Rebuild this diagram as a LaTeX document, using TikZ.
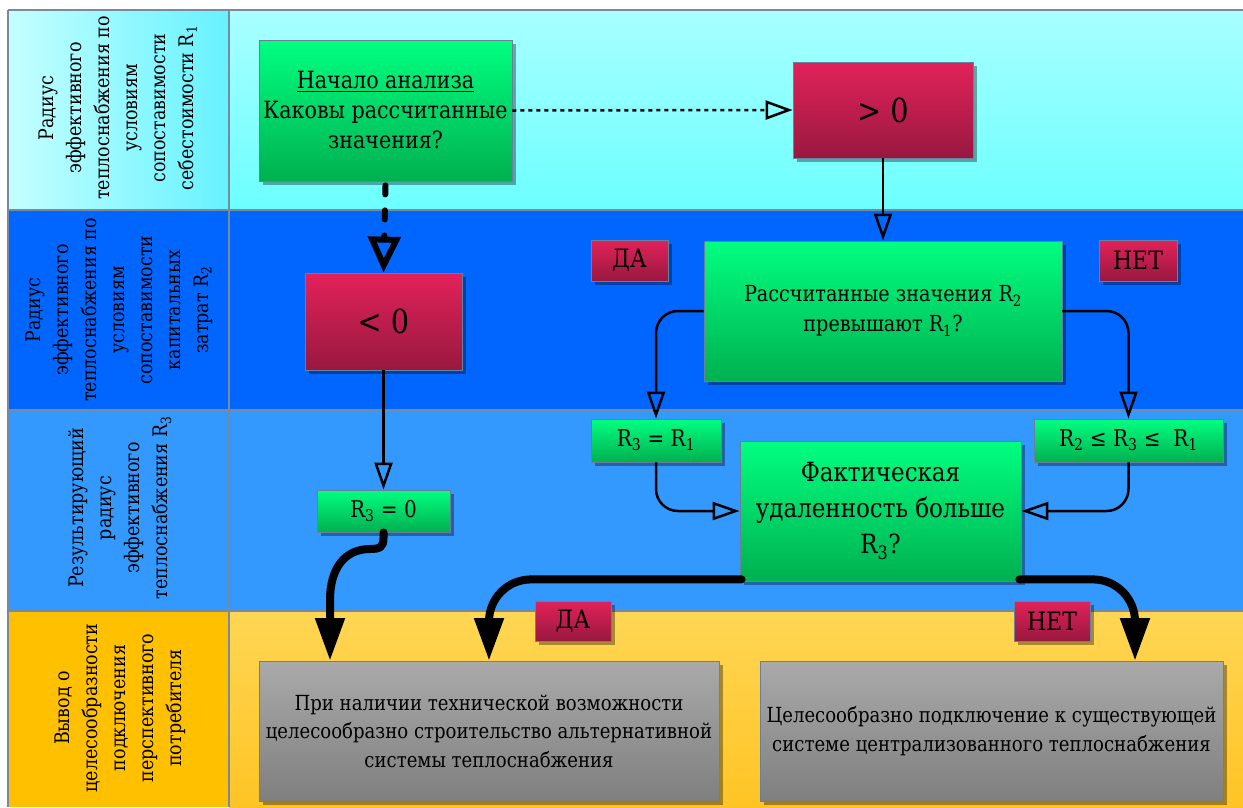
\documentclass[tikz,border=0pt]{standalone}
\usepackage{fontspec}
\setmainfont{DejaVu Serif}[FakeStretch=0.87]
\usetikzlibrary{arrows.meta,shadows,calc}

\definecolor{cyanA}{HTML}{A8FFFF}
\definecolor{cyanB}{HTML}{6CFFFF}
\definecolor{cyanL}{HTML}{C4FFFF}
\definecolor{cyanR}{HTML}{66F2FF}
\definecolor{blueA}{HTML}{0066FF}
\definecolor{blueB}{HTML}{3399FF}
\definecolor{goldA}{HTML}{FFD654}
\definecolor{goldB}{HTML}{FFC424}
\definecolor{goldL}{HTML}{FFC000}
\definecolor{greenA}{HTML}{00FF80}
\definecolor{greenB}{HTML}{00B050}
\definecolor{redA}{HTML}{E2225A}
\definecolor{redB}{HTML}{98183F}
\definecolor{grayA}{HTML}{AAAAAA}
\definecolor{grayB}{HTML}{7F7F7F}
\definecolor{edge}{HTML}{6A7F99}
\definecolor{gridc}{HTML}{7A8A9E}

% font size scaled to DejaVu Serif proportions
\newcommand{\myfs}[2]{\fontsize{\dimexpr #1pt*92/100\relax}{#2pt}\selectfont}

\tikzset{
  boxbase/.style={draw=edge, line width=0.8pt, inner sep=0pt, align=center,
    drop shadow={shadow xshift=4pt, shadow yshift=-4pt, fill=black, opacity=0.35}},
  greenbox/.style={boxbase, top color=greenA, bottom color=greenB},
  redbox/.style={boxbase, top color=redA, bottom color=redB},
  graybox/.style={boxbase, top color=grayA, bottom color=grayB},
  bandlabel/.style={rotate=90, align=center, font=\myfs{21.8}{28}},
  conn/.style={line width=2.5pt, -{Triangle[open,length=27pt,width=18pt,line width=2.5pt]}},
  dotconn/.style={line width=2.5pt, dash pattern=on 4pt off 4pt,
    -{Triangle[open,length=27pt,width=19pt,line width=2.5pt]}},
  thickdash/.style={line width=6pt, line cap=round, dash pattern=on 9pt off 16pt,
    -{Triangle[open,length=36pt,width=32pt,line width=6pt]}},
  bigarrow/.style={line width=8pt, line cap=round, -{Triangle[length=43pt,width=28pt]}},
  gridline/.style={draw=gridc, line width=1.5pt}
}

\begin{document}
\begin{tikzpicture}[x=1pt,y=-1pt]
\useasboundingbox (0,0) rectangle (1243,807);
\fill[white] (0,0) rectangle (1243,807);

% bands
\fill[top color=cyanA, bottom color=cyanB] (229,10) rectangle (1243,210);
\fill[left color=cyanL, right color=cyanR] (8,10) rectangle (229,210);
\fill[blueA] (8,210) rectangle (1243,410);
\fill[blueB] (8,410) rectangle (1243,611);
\fill[top color=goldA, bottom color=goldB] (229,611) rectangle (1243,807);
\fill[goldL] (8,611) rectangle (229,807);

% grid
\draw[gridline] (8,10) -- (1243,10);
\draw[gridline] (8,210) -- (1243,210);
\draw[gridline] (8,410) -- (1243,410);
\draw[gridline] (8,611) -- (1243,611);
\draw[gridline] (8,10) -- (8,807);
\draw[gridline] (229,10) -- (229,807);

% band labels
\node[bandlabel] (lab1) at (118,108) {Радиус\\эффективного\\теплоснабжения по\\условиям\\сопоставимости\\себестоимости R\textsubscript{1}};
\node[bandlabel] (lab2) at (119,310) {Радиус\\эффективного\\теплоснабжения по\\условиям\\сопоставимости\\капитальных\\затрат R\textsubscript{2}};
\node[bandlabel] (lab3) at (120,508) {Результирующий\\радиус\\эффективного\\теплоснабжения R\textsubscript{3}};
\node[bandlabel] (lab4) at (120,708) {Вывод о\\целесообразности\\подключения\\перспективного\\потребителя};

% boxes
\node[greenbox, minimum width=253pt, minimum height=141pt, font=\myfs{25.8}{30}] (start) at (385.5,110.5)
  {\underline{Начало анализа}\\Каковы рассчитанные\\значения?};
\node[redbox, minimum width=180pt, minimum height=96pt, font=\myfs{36}{40}] (gt) at (883,110) {> 0};
\node[redbox, minimum width=157pt, minimum height=97pt, font=\myfs{36}{40}] (lt) at (383.5,321.5) {< 0};
\node[greenbox, minimum width=358pt, minimum height=140pt, font=\myfs{24}{30}] (r2q) at (883,311)
  {Рассчитанные значения R\textsubscript{2}\\превышают R\textsubscript{1}?};
\node[redbox, minimum width=77pt, minimum height=41pt, font=\myfs{27.5}{30}] (da1) at (629.5,260.5) {ДА};
\node[redbox, minimum width=78pt, minimum height=41pt, font=\myfs{27.5}{30}] (net1) at (1138,260.5) {НЕТ};
\node[greenbox, minimum width=130pt, minimum height=43pt, font=\myfs{25}{30}] (r31) at (656,440.5)
  {R\textsubscript{3} = R\textsubscript{1}};
\node[greenbox, minimum width=189pt, minimum height=43pt, font=\myfs{25}{30}] (rr) at (1128.5,440.5)
  {R\textsubscript{2} ≤ R\textsubscript{3} ≤~ R\textsubscript{1}};
\node[greenbox, minimum width=281pt, minimum height=140pt, font=\myfs{28.7}{36}] (fact) at (880.5,511)
  {Фактическая\\удаленность больше\\R\textsubscript{3}?};
\node[greenbox, minimum width=133pt, minimum height=42pt, font=\myfs{25}{30}] (r30) at (383.5,511)
  {R\textsubscript{3} = 0};
\node[redbox, minimum width=76pt, minimum height=40pt, font=\myfs{27.5}{30}] (da2) at (573,621) {ДА};
\node[redbox, minimum width=76pt, minimum height=40pt, font=\myfs{27.5}{30}] (net2) at (1052,621) {НЕТ};
\node[graybox, minimum width=460pt, minimum height=140pt, font=\myfs{22.6}{28.5}] (alt) at (489,731)
  {При наличии технической возможности\\целесообразно строительство альтернативной\\системы теплоснабжения};
\node[graybox, minimum width=463pt, minimum height=140pt, font=\myfs{22.6}{28.5}] (cen) at (991.5,731)
  {Целесообразно подключение к существующей\\системе централизованного теплоснабжения};

% end points of big arrows
\coordinate (tA) at (330,661);
\coordinate (tB) at (489,661);
\coordinate (tC) at (1135,661);

% connectors
\draw[dotconn] (start.east) -- (gt.west);
\draw[thickdash] ($(start.south)+(0,4)$) -- (lt.north);
\draw[conn] (gt.south) -- (r2q.north);
\draw[conn, rounded corners=22pt] (r2q.west) -| (r31.north);
\draw[conn, rounded corners=22pt] (r2q.east) -| (rr.north);
\draw[conn] (lt.south) -- (r30.north);
\draw[conn, rounded corners=22pt] (r31.south) |- (fact.west);
\draw[conn, rounded corners=22pt] (rr.south) |- (fact.east);
\draw[bigarrow] (r30.south) -- (383.5,538) .. controls (383.5,547) and (380,549) .. (370,549)
  .. controls (345,549) and (330,568) .. (330,600) -- (tA);
\draw[bigarrow, rounded corners=42pt] ($(fact.south west)+(2,-2)$) -| (tB);
\draw[bigarrow, rounded corners=42pt] ($(fact.south east)+(-2,-2)$) -| (tC);
\end{tikzpicture}
\end{document}
